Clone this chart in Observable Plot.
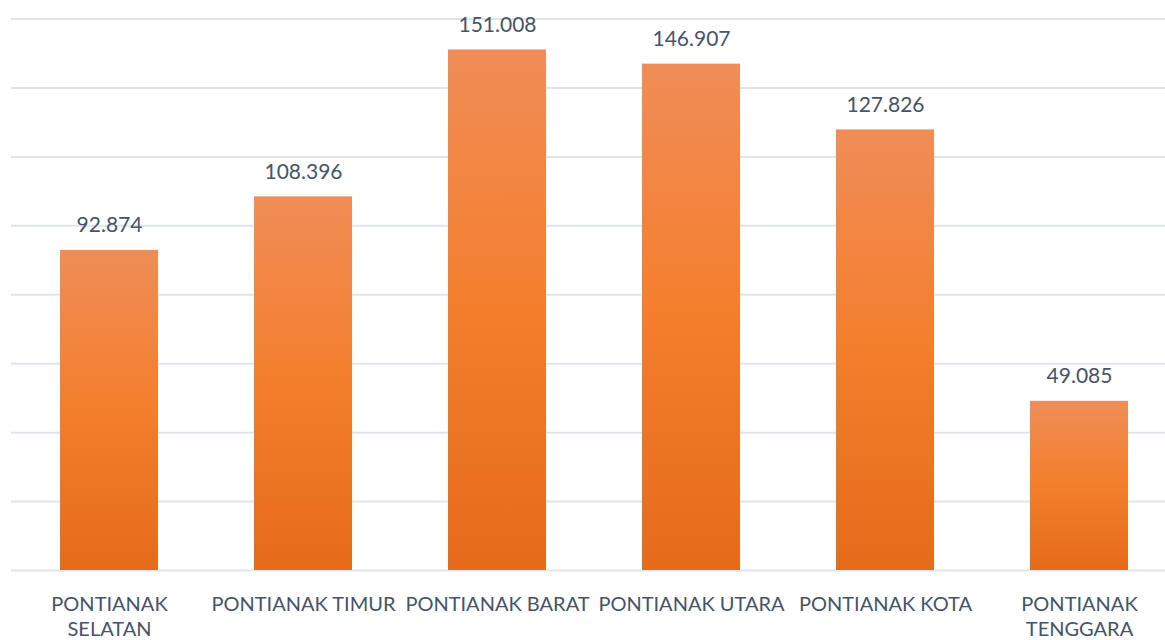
<!DOCTYPE html>
<html><head><meta charset="utf-8">
<script src="https://cdn.jsdelivr.net/npm/d3@7"></script>
<script src="https://cdn.jsdelivr.net/npm/@observablehq/plot@0.6"></script>
<style>body{margin:0;background:#fff;overflow:hidden}</style>
</head><body><div id="chart"></div>
<script>
const categories = ["Pontianak Selatan","Pontianak Timur","Pontianak Barat","Pontianak Utara","Pontianak Kota","Pontianak Tenggara"];
const values = [92874, 108396, 151008, 146907, 127826, 49085];
const tickLabels = ["PONTIANAK\nSELATAN","PONTIANAK TIMUR","PONTIANAK BARAT","PONTIANAK UTARA","PONTIANAK KOTA","PONTIANAK\nTENGGARA"];
const gridValues = [0, 20000, 40000, 60000, 80000, 100000, 120000, 140000, 160000];

const data = categories.map((c, i) => ({category: c, value: values[i], label: tickLabels[i]}));
const fmt = d3.formatLocale({decimal: ",", thousands: ".", grouping: [3], currency: ["Rp", ""]}).format(",");

const plot = Plot.plot({
  width: 1165, height: 640,
  marginTop: 18.5, marginBottom: 70, marginLeft: 11, marginRight: 0,
  style: {fontFamily: "Lato, sans-serif", background: "#fff", overflow: "visible"},
  x: {domain: categories, range: [11, 1177], paddingInner: 0.496, paddingOuter: 0.248, axis: null},
  y: {domain: [0, 160000], axis: null},
  marks: [
    Plot.ruleY(gridValues, {stroke: "#e1e5ea", strokeWidth: 2}),
    Plot.barY(data, {x: "category", y: "value", fill: "url(#barGradient)"}),
    Plot.text(data, {x: "category", y: "value", text: d => fmt(d.value), dy: -25, fontSize: 21, fill: "#44546a"}),
    Plot.text(data, {x: "category", text: "label", frameAnchor: "bottom", lineAnchor: "top", dy: 22, fontSize: 20, lineHeight: 1.28, fill: "#44546a"})
  ]
});

const svg = d3.select(plot);
const grad = svg.insert("defs", ":first-child").append("linearGradient")
  .attr("id", "barGradient").attr("x1", 0).attr("y1", 0).attr("x2", 0).attr("y2", 1);
grad.append("stop").attr("offset", "0%").attr("stop-color", "#f08d57");
grad.append("stop").attr("offset", "50%").attr("stop-color", "#f47e2c");
grad.append("stop").attr("offset", "100%").attr("stop-color", "#e46b19");

document.getElementById("chart").appendChild(plot);
</script>
</body></html>
